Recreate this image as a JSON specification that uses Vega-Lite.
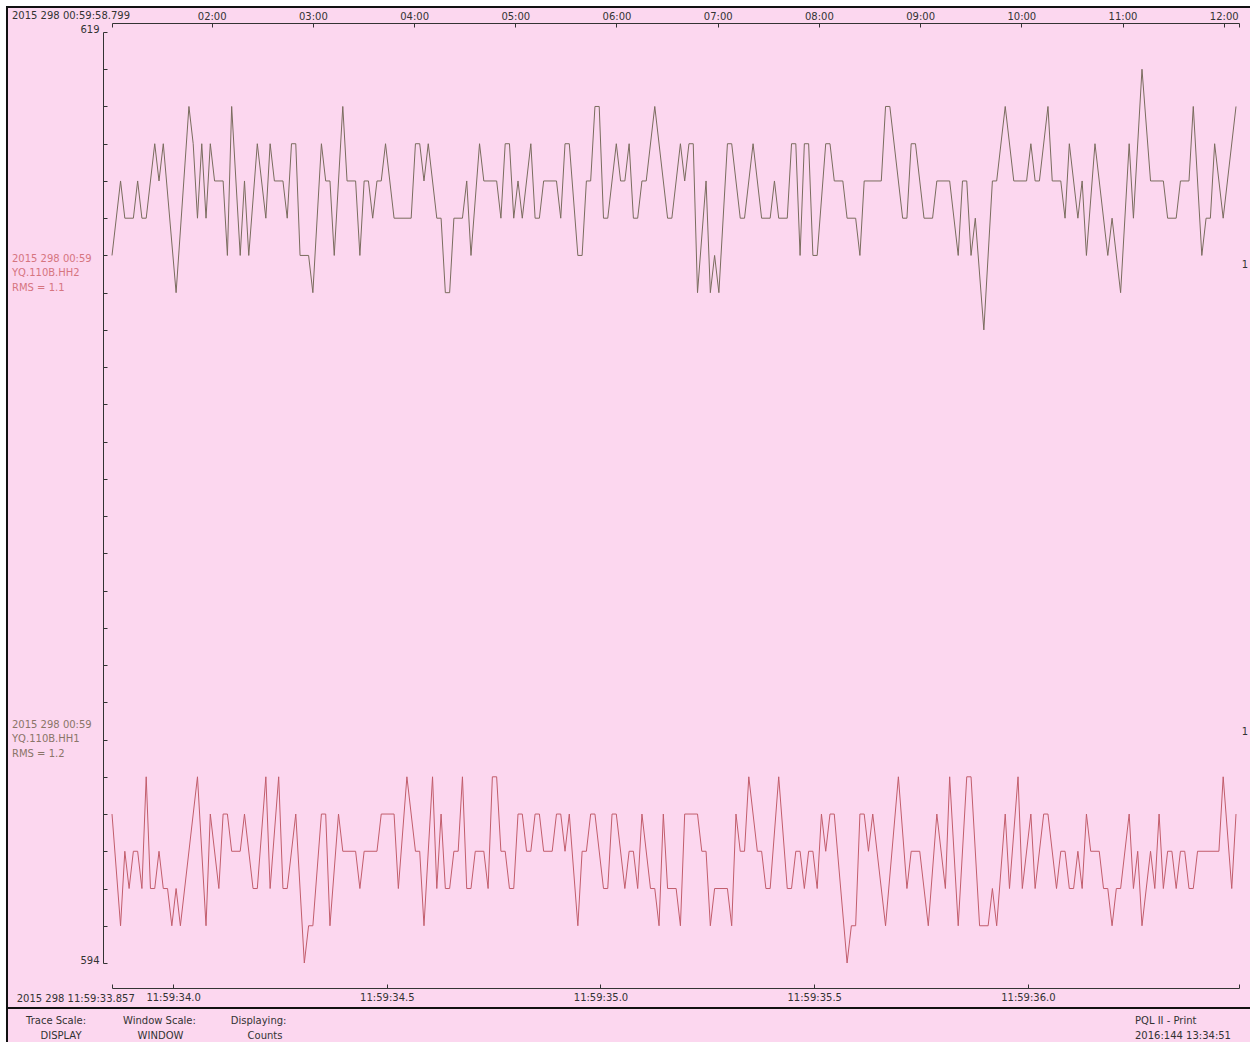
{
"$schema": "https://vega.github.io/schema/vega-lite/v6.json",
"width": 1127,
"height": 931,
"autosize": {"type": "none"},
"padding": {"left": 112, "top": 32, "right": 11, "bottom": 79},
"background": "#ffffff",
"config": {"view": {"stroke": null}, "font": "DejaVu Sans", "text": {"font": "DejaVu Sans", "fontSize": 10}},
"datasets": {
"hh2": [
{"t":33.857,"c":613},{"t":33.877,"c":615},{"t":33.887,"c":614},{"t":33.907,"c":614},{"t":33.917,"c":615},{"t":33.927,"c":614},{"t":33.937,"c":614},{"t":33.957,"c":616},{"t":33.967,"c":615},{"t":33.977,"c":616},
{"t":34.007,"c":612},{"t":34.037,"c":617},{"t":34.047,"c":616},{"t":34.057,"c":614},{"t":34.067,"c":616},{"t":34.077,"c":614},{"t":34.087,"c":616},{"t":34.097,"c":615},{"t":34.117,"c":615},{"t":34.127,"c":613},
{"t":34.137,"c":617},{"t":34.157,"c":613},{"t":34.167,"c":615},{"t":34.177,"c":613},{"t":34.197,"c":616},{"t":34.217,"c":614},{"t":34.227,"c":616},{"t":34.237,"c":615},{"t":34.257,"c":615},{"t":34.267,"c":614},
{"t":34.277,"c":616},{"t":34.287,"c":616},{"t":34.297,"c":613},{"t":34.317,"c":613},{"t":34.327,"c":612},{"t":34.347,"c":616},{"t":34.357,"c":615},{"t":34.367,"c":615},{"t":34.377,"c":613},{"t":34.397,"c":617},
{"t":34.407,"c":615},{"t":34.427,"c":615},{"t":34.437,"c":613},{"t":34.447,"c":615},{"t":34.457,"c":615},{"t":34.467,"c":614},{"t":34.477,"c":615},{"t":34.487,"c":615},{"t":34.497,"c":616},{"t":34.517,"c":614},
{"t":34.557,"c":614},{"t":34.567,"c":616},{"t":34.577,"c":616},{"t":34.587,"c":615},{"t":34.597,"c":616},{"t":34.617,"c":614},{"t":34.627,"c":614},{"t":34.637,"c":612},{"t":34.647,"c":612},{"t":34.657,"c":614},
{"t":34.677,"c":614},{"t":34.687,"c":615},{"t":34.697,"c":613},{"t":34.717,"c":616},{"t":34.727,"c":615},{"t":34.757,"c":615},{"t":34.767,"c":614},{"t":34.777,"c":616},{"t":34.787,"c":616},{"t":34.797,"c":614},
{"t":34.807,"c":615},{"t":34.817,"c":614},{"t":34.837,"c":616},{"t":34.847,"c":614},{"t":34.857,"c":614},{"t":34.867,"c":615},{"t":34.897,"c":615},{"t":34.907,"c":614},{"t":34.917,"c":616},{"t":34.927,"c":616},
{"t":34.947,"c":613},{"t":34.957,"c":613},{"t":34.967,"c":615},{"t":34.977,"c":615},{"t":34.987,"c":617},{"t":34.997,"c":617},{"t":35.007,"c":614},{"t":35.017,"c":614},{"t":35.037,"c":616},{"t":35.047,"c":615},
{"t":35.057,"c":615},{"t":35.067,"c":616},{"t":35.077,"c":614},{"t":35.087,"c":614},{"t":35.097,"c":615},{"t":35.107,"c":615},{"t":35.127,"c":617},{"t":35.157,"c":614},{"t":35.167,"c":614},{"t":35.187,"c":616},
{"t":35.197,"c":615},{"t":35.207,"c":616},{"t":35.217,"c":616},{"t":35.227,"c":612},{"t":35.247,"c":615},{"t":35.257,"c":612},{"t":35.267,"c":613},{"t":35.277,"c":612},{"t":35.297,"c":616},{"t":35.307,"c":616},
{"t":35.327,"c":614},{"t":35.337,"c":614},{"t":35.357,"c":616},{"t":35.377,"c":614},{"t":35.397,"c":614},{"t":35.407,"c":615},{"t":35.417,"c":614},{"t":35.437,"c":614},{"t":35.447,"c":616},{"t":35.457,"c":616},
{"t":35.467,"c":613},{"t":35.477,"c":616},{"t":35.487,"c":616},{"t":35.497,"c":613},{"t":35.507,"c":613},{"t":35.527,"c":616},{"t":35.537,"c":616},{"t":35.547,"c":615},{"t":35.567,"c":615},{"t":35.577,"c":614},
{"t":35.597,"c":614},{"t":35.607,"c":613},{"t":35.617,"c":615},{"t":35.657,"c":615},{"t":35.667,"c":617},{"t":35.677,"c":617},{"t":35.707,"c":614},{"t":35.717,"c":614},{"t":35.727,"c":616},{"t":35.737,"c":616},
{"t":35.757,"c":614},{"t":35.777,"c":614},{"t":35.787,"c":615},{"t":35.817,"c":615},{"t":35.837,"c":613},{"t":35.847,"c":615},{"t":35.857,"c":615},{"t":35.867,"c":613},{"t":35.877,"c":614},{"t":35.897,"c":611},
{"t":35.917,"c":615},{"t":35.927,"c":615},{"t":35.947,"c":617},{"t":35.967,"c":615},{"t":35.997,"c":615},{"t":36.007,"c":616},{"t":36.017,"c":615},{"t":36.027,"c":615},{"t":36.047,"c":617},{"t":36.057,"c":615},
{"t":36.077,"c":615},{"t":36.087,"c":614},{"t":36.097,"c":616},{"t":36.117,"c":614},{"t":36.127,"c":615},{"t":36.137,"c":613},{"t":36.157,"c":616},{"t":36.187,"c":613},{"t":36.197,"c":614},{"t":36.217,"c":612},
{"t":36.237,"c":616},{"t":36.247,"c":614},{"t":36.267,"c":618},{"t":36.287,"c":615},{"t":36.317,"c":615},{"t":36.327,"c":614},{"t":36.347,"c":614},{"t":36.357,"c":615},{"t":36.377,"c":615},{"t":36.387,"c":617},
{"t":36.407,"c":613},{"t":36.417,"c":614},{"t":36.427,"c":614},{"t":36.437,"c":616},{"t":36.457,"c":614},{"t":36.487,"c":617}
],
"hh1": [
{"t":33.857,"c":598},{"t":33.877,"c":595},{"t":33.887,"c":597},{"t":33.897,"c":596},{"t":33.907,"c":597},{"t":33.917,"c":597},{"t":33.927,"c":596},{"t":33.937,"c":599},{"t":33.947,"c":596},{"t":33.957,"c":596},
{"t":33.967,"c":597},{"t":33.977,"c":596},{"t":33.987,"c":596},{"t":33.997,"c":595},{"t":34.007,"c":596},{"t":34.017,"c":595},{"t":34.057,"c":599},{"t":34.077,"c":595},{"t":34.087,"c":598},{"t":34.107,"c":596},
{"t":34.117,"c":598},{"t":34.127,"c":598},{"t":34.137,"c":597},{"t":34.157,"c":597},{"t":34.167,"c":598},{"t":34.187,"c":596},{"t":34.197,"c":596},{"t":34.217,"c":599},{"t":34.227,"c":596},{"t":34.247,"c":599},
{"t":34.257,"c":596},{"t":34.267,"c":596},{"t":34.287,"c":598},{"t":34.307,"c":594},{"t":34.317,"c":595},{"t":34.327,"c":595},{"t":34.347,"c":598},{"t":34.357,"c":598},{"t":34.367,"c":595},{"t":34.387,"c":598},
{"t":34.397,"c":597},{"t":34.427,"c":597},{"t":34.437,"c":596},{"t":34.447,"c":597},{"t":34.477,"c":597},{"t":34.487,"c":598},{"t":34.517,"c":598},{"t":34.527,"c":596},{"t":34.547,"c":599},{"t":34.567,"c":597},
{"t":34.577,"c":597},{"t":34.587,"c":595},{"t":34.607,"c":599},{"t":34.617,"c":596},{"t":34.627,"c":598},{"t":34.637,"c":596},{"t":34.647,"c":596},{"t":34.657,"c":597},{"t":34.667,"c":597},{"t":34.677,"c":599},
{"t":34.687,"c":596},{"t":34.697,"c":596},{"t":34.707,"c":597},{"t":34.727,"c":597},{"t":34.737,"c":596},{"t":34.747,"c":599},{"t":34.757,"c":599},{"t":34.767,"c":597},{"t":34.777,"c":597},{"t":34.787,"c":596},
{"t":34.797,"c":596},{"t":34.807,"c":598},{"t":34.817,"c":598},{"t":34.827,"c":597},{"t":34.837,"c":597},{"t":34.847,"c":598},{"t":34.857,"c":598},{"t":34.867,"c":597},{"t":34.887,"c":597},{"t":34.897,"c":598},
{"t":34.907,"c":598},{"t":34.917,"c":597},{"t":34.927,"c":598},{"t":34.947,"c":595},{"t":34.957,"c":597},{"t":34.967,"c":597},{"t":34.977,"c":598},{"t":34.987,"c":598},{"t":35.007,"c":596},{"t":35.017,"c":596},
{"t":35.027,"c":598},{"t":35.037,"c":598},{"t":35.057,"c":596},{"t":35.067,"c":597},{"t":35.077,"c":597},{"t":35.087,"c":596},{"t":35.097,"c":598},{"t":35.117,"c":596},{"t":35.127,"c":596},{"t":35.137,"c":595},
{"t":35.147,"c":598},{"t":35.157,"c":596},{"t":35.177,"c":596},{"t":35.187,"c":595},{"t":35.197,"c":598},{"t":35.227,"c":598},{"t":35.237,"c":597},{"t":35.247,"c":597},{"t":35.257,"c":595},{"t":35.267,"c":596},
{"t":35.297,"c":596},{"t":35.307,"c":595},{"t":35.317,"c":598},{"t":35.327,"c":597},{"t":35.337,"c":597},{"t":35.347,"c":599},{"t":35.367,"c":597},{"t":35.377,"c":597},{"t":35.387,"c":596},{"t":35.397,"c":596},
{"t":35.417,"c":599},{"t":35.437,"c":596},{"t":35.447,"c":596},{"t":35.457,"c":597},{"t":35.467,"c":597},{"t":35.477,"c":596},{"t":35.487,"c":597},{"t":35.497,"c":597},{"t":35.507,"c":596},{"t":35.517,"c":598},
{"t":35.527,"c":597},{"t":35.537,"c":598},{"t":35.547,"c":598},{"t":35.577,"c":594},{"t":35.587,"c":595},{"t":35.597,"c":595},{"t":35.607,"c":598},{"t":35.617,"c":598},{"t":35.627,"c":597},{"t":35.637,"c":598},
{"t":35.667,"c":595},{"t":35.697,"c":599},{"t":35.717,"c":596},{"t":35.727,"c":597},{"t":35.747,"c":597},{"t":35.767,"c":595},{"t":35.787,"c":598},{"t":35.807,"c":596},{"t":35.817,"c":599},{"t":35.837,"c":595},
{"t":35.857,"c":599},{"t":35.867,"c":599},{"t":35.887,"c":595},{"t":35.907,"c":595},{"t":35.917,"c":596},{"t":35.927,"c":595},{"t":35.947,"c":598},{"t":35.957,"c":596},{"t":35.977,"c":599},{"t":35.987,"c":596},
{"t":36.007,"c":598},{"t":36.017,"c":596},{"t":36.037,"c":598},{"t":36.047,"c":598},{"t":36.067,"c":596},{"t":36.077,"c":597},{"t":36.087,"c":597},{"t":36.097,"c":596},{"t":36.107,"c":596},{"t":36.117,"c":597},
{"t":36.127,"c":596},{"t":36.137,"c":598},{"t":36.147,"c":597},{"t":36.167,"c":597},{"t":36.177,"c":596},{"t":36.187,"c":596},{"t":36.197,"c":595},{"t":36.207,"c":596},{"t":36.217,"c":596},{"t":36.237,"c":598},
{"t":36.247,"c":596},{"t":36.257,"c":597},{"t":36.267,"c":595},{"t":36.287,"c":597},{"t":36.297,"c":596},{"t":36.307,"c":598},{"t":36.317,"c":596},{"t":36.327,"c":597},{"t":36.337,"c":597},{"t":36.347,"c":596},
{"t":36.357,"c":597},{"t":36.367,"c":597},{"t":36.377,"c":596},{"t":36.387,"c":596},{"t":36.397,"c":597},{"t":36.447,"c":597},{"t":36.457,"c":599},{"t":36.477,"c":596},{"t":36.487,"c":598}
]
},
"layer": [
{
"layer": [
{"data": {"values": [{}]}, "mark": {"type": "rect", "fill": "#fcd7ef", "stroke": "#111111", "strokeWidth": 2},
 "encoding": {"x": {"datum": 33.6113, "type": "quantitative"}, "x2": {"datum": 36.5244}, "y": {"datum": 619.671, "type": "quantitative"}, "y2": {"datum": 591.6}}},
{"data": {"values": [{}]}, "mark": {"type": "rule", "color": "#111111", "strokeWidth": 2},
 "encoding": {"x": {"datum": 33.6113, "type": "quantitative"}, "x2": {"datum": 36.5244}, "y": {"datum": 592.792, "type": "quantitative"}}},
{"data": {"name": "hh2"}, "mark": {"type": "line", "color": "#7a6c5e", "strokeWidth": 1},
 "encoding": {
  "x": {"field": "t", "type": "quantitative", "scale": {"domain": [33.857, 36.494], "nice": false, "zero": false},
   "axis": {"orient": "bottom", "offset": 25, "title": null, "grid": false, "zindex": 1, "tickCount": 100,
    "values": [33.857, 34, 34.5, 35, 35.5, 36, 36.494],
    "labelExpr": "datum.value < 33.9 || datum.value > 36.4 ? '' : '11:59:' + format(datum.value, '.1f')",
    "tickSize": -4, "labelPadding": 8, "labelOverlap": false, "labelFlush": false, "labelBound": false,
    "domainColor": "#333333", "tickColor": "#333333", "labelColor": "#333333", "labelFont": "DejaVu Sans", "labelFontSize": 10}},
  "y": {"field": "c", "type": "quantitative", "scale": {"domain": [594, 619], "nice": false, "zero": false},
   "axis": {"orient": "left", "offset": 9, "title": null, "grid": false, "zindex": 1, "tickCount": 100,
    "values": [594,595,596,597,598,599,600,601,602,603,604,605,606,607,608,609,610,611,612,613,614,615,616,617,618,619],
    "labelExpr": "datum.value == 619 || datum.value == 594 ? format(datum.value, 'd') : ''",
    "tickSize": -4, "labelPadding": 8, "labelBaseline": "alphabetic", "labelOverlap": false, "labelFlush": false, "labelBound": false,
    "domainColor": "#333333", "tickColor": "#333333", "labelColor": "#333333", "labelFont": "DejaVu Sans", "labelFontSize": 10}}
 }},
{"data": {"name": "hh1"}, "mark": {"type": "line", "color": "#c25d6c", "strokeWidth": 1},
 "encoding": {"x": {"field": "t", "type": "quantitative"}, "y": {"field": "c", "type": "quantitative"}}},
{"data": {"values": [{}]}, "mark": {"type": "text", "align": "left", "baseline": "alphabetic", "color": "#333333", "text": "2015 298 00:59:58.799"},
 "encoding": {"x": {"datum": 33.623, "type": "quantitative"}, "y": {"datum": 619.336, "type": "quantitative"}}},
{"data": {"values": [{}]}, "mark": {"type": "text", "align": "left", "baseline": "alphabetic", "color": "#333333", "text": "2015 298 11:59:33.857"},
 "encoding": {"x": {"datum": 33.634, "type": "quantitative"}, "y": {"datum": 592.966, "type": "quantitative"}}},
{"data": {"values": [{}]}, "mark": {"type": "text", "align": "left", "baseline": "alphabetic", "color": "#d67580", "lineHeight": 14.5, "text": ["2015 298 00:59", "YQ.110B.HH2", "RMS = 1.1"]},
 "encoding": {"x": {"datum": 33.623, "type": "quantitative"}, "y": {"datum": 612.824, "type": "quantitative"}}},
{"data": {"values": [{}]}, "mark": {"type": "text", "align": "left", "baseline": "alphabetic", "color": "#8a7568", "lineHeight": 14.5, "text": ["2015 298 00:59", "YQ.110B.HH1", "RMS = 1.2"]},
 "encoding": {"x": {"datum": 33.623, "type": "quantitative"}, "y": {"datum": 600.311, "type": "quantitative"}}},
{"data": {"values": [{}]}, "mark": {"type": "text", "align": "center", "baseline": "middle", "color": "#333333", "text": "1"},
 "encoding": {"x": {"datum": 36.508, "type": "quantitative"}, "y": {"datum": 612.743, "type": "quantitative"}}},
{"data": {"values": [{}]}, "mark": {"type": "text", "align": "center", "baseline": "middle", "color": "#333333", "text": "1"},
 "encoding": {"x": {"datum": 36.508, "type": "quantitative"}, "y": {"datum": 600.211, "type": "quantitative"}}},
{"data": {"values": [{}]}, "mark": {"type": "text", "align": "center", "baseline": "alphabetic", "color": "#333333", "text": "Trace Scale:"},
 "encoding": {"x": {"datum": 33.726, "type": "quantitative"}, "y": {"datum": 592.349, "type": "quantitative"}}},
{"data": {"values": [{}]}, "mark": {"type": "text", "align": "center", "baseline": "alphabetic", "color": "#333333", "text": "DISPLAY"},
 "encoding": {"x": {"datum": 33.7377, "type": "quantitative"}, "y": {"datum": 591.959, "type": "quantitative"}}},
{"data": {"values": [{}]}, "mark": {"type": "text", "align": "center", "baseline": "alphabetic", "color": "#333333", "text": "Window Scale:"},
 "encoding": {"x": {"datum": 33.968, "type": "quantitative"}, "y": {"datum": 592.349, "type": "quantitative"}}},
{"data": {"values": [{}]}, "mark": {"type": "text", "align": "center", "baseline": "alphabetic", "color": "#333333", "text": "WINDOW"},
 "encoding": {"x": {"datum": 33.9705, "type": "quantitative"}, "y": {"datum": 591.959, "type": "quantitative"}}},
{"data": {"values": [{}]}, "mark": {"type": "text", "align": "center", "baseline": "alphabetic", "color": "#333333", "text": "Displaying:"},
 "encoding": {"x": {"datum": 34.2, "type": "quantitative"}, "y": {"datum": 592.349, "type": "quantitative"}}},
{"data": {"values": [{}]}, "mark": {"type": "text", "align": "center", "baseline": "alphabetic", "color": "#333333", "text": "Counts"},
 "encoding": {"x": {"datum": 34.215, "type": "quantitative"}, "y": {"datum": 591.959, "type": "quantitative"}}},
{"data": {"values": [{}]}, "mark": {"type": "text", "align": "left", "baseline": "alphabetic", "color": "#333333", "lineHeight": 14.5, "text": ["PQL II - Print", "2016:144 13:34:51"]},
 "encoding": {"x": {"datum": 36.2506, "type": "quantitative"}, "y": {"datum": 592.349, "type": "quantitative"}}}
]
},
{"data": {"values": [{}]}, "mark": {"type": "rule", "strokeOpacity": 0},
 "encoding": {"x": {"datum": 2, "type": "quantitative", "scale": {"domain": [1.015, 12.151], "nice": false, "zero": false},
  "axis": {"orient": "top", "offset": 9, "title": null, "grid": false, "zindex": 1, "tickCount": 100,
   "values": [1.015, 2, 3, 4, 5, 6, 7, 8, 9, 10, 11, 12, 12.151],
   "labelExpr": "datum.value < 1.5 || datum.value > 12.1 ? '' : format(datum.value, '02d') + ':00'",
   "tickSize": -4, "labelPadding": 6, "labelOverlap": false, "labelFlush": false, "labelBound": false,
   "domainColor": "#333333", "tickColor": "#333333", "labelColor": "#333333", "labelFont": "DejaVu Sans", "labelFontSize": 10}}}}
],
"resolve": {"scale": {"x": "independent"}}
}
